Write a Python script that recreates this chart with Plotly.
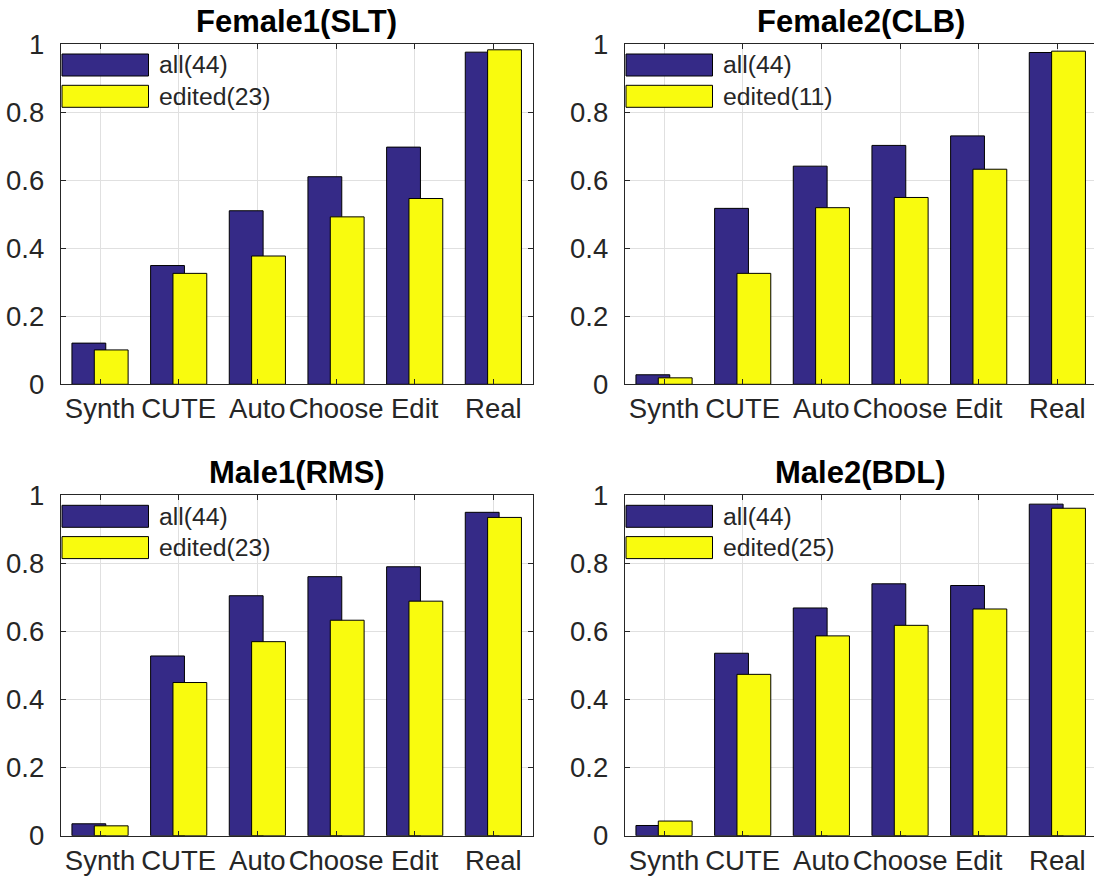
import plotly.graph_objects as go

# ---------------- data ----------------
categories = ["Synth", "CUTE", "Auto", "Choose", "Edit", "Real"]
panel_titles = ["Female1(SLT)", "Female2(CLB)", "Male1(RMS)", "Male2(BDL)"]
all_label = "all(44)"
edited_labels = ["edited(23)", "edited(11)", "edited(23)", "edited(25)"]

female1_all = [0.121, 0.349, 0.510, 0.610, 0.697, 0.976]
female1_edited = [0.101, 0.326, 0.377, 0.492, 0.546, 0.983]
female2_all = [0.028, 0.517, 0.641, 0.702, 0.730, 0.975]
female2_edited = [0.019, 0.326, 0.519, 0.549, 0.632, 0.979]
male1_all = [0.035, 0.528, 0.705, 0.761, 0.790, 0.950]
male1_edited = [0.029, 0.450, 0.570, 0.633, 0.689, 0.935]
male2_all = [0.030, 0.536, 0.669, 0.740, 0.735, 0.974]
male2_edited = [0.043, 0.474, 0.587, 0.618, 0.666, 0.962]

y_tickvals = [0, 0.2, 0.4, 0.6, 0.8, 1]
y_ticktext = ["0", "0.2", "0.4", "0.6", "0.8", "1"]

panels_all = [female1_all, female2_all, male1_all, male2_all]
panels_edited = [female1_edited, female2_edited, male1_edited, male2_edited]

# ---------------- styling / layout ----------------
W, H = 1094, 877
FONT = "Liberation Sans, Arial, Helvetica, sans-serif"
DARK = "#352A87"
YELLOW = "#F9FB0E"
AXC = "#262626"
GRID = "#e0e0e0"
TICK_FS = 27.5
LEG_FS = 24.75
TITLE_FS = 31

x_pos = list(range(1, len(categories) + 1))

# pixel boxes of the four axes (left, right, top, bottom)
AX_W = 472.0
boxes = [
    (60.7, 60.7 + AX_W, 44.0, 384.3),
    (624.7, 624.7 + AX_W, 44.0, 384.3),
    (60.7, 60.7 + AX_W, 495.3, 835.7),
    (624.7, 624.7 + AX_W, 495.3, 835.7),
]


def px_x(v):
    return v / W


def px_y(v):
    return 1 - v / H


fig = go.Figure()
layout = dict(
    template="none",
    width=W, height=H, autosize=False,
    margin=dict(l=0, r=0, t=0, b=0, pad=0, autoexpand=False),
    paper_bgcolor="white", plot_bgcolor="white",
    barmode="overlay", showlegend=False,
    font=dict(family=FONT, color=AXC),
)
annotations = []
shapes = []

for i in range(4):
    l, r, t, b = boxes[i]
    sfx = "" if i == 0 else str(i + 1)
    xa = "x" + sfx
    ya = "y" + sfx
    r_clip = min(r, W)
    units_per_px = 6.0 / AX_W
    xr = [0.5, 0.5 + (r_clip - l) * units_per_px]

    fig.add_trace(go.Bar(
        x=x_pos, y=panels_all[i], name=all_label,
        width=0.43, offset=-0.357,
        marker=dict(color=DARK, line=dict(color="black", width=1)),
        xaxis=xa, yaxis=ya,
    ))
    fig.add_trace(go.Bar(
        x=x_pos, y=panels_edited[i], name=edited_labels[i],
        width=0.43, offset=-0.073,
        marker=dict(color=YELLOW, line=dict(color="black", width=1)),
        xaxis=xa, yaxis=ya,
    ))

    clipped = r > W
    layout["xaxis" + sfx] = dict(
        domain=[px_x(l), px_x(r_clip)], anchor=ya, range=xr,
        tickmode="array", tickvals=x_pos, ticktext=categories, tickangle=0,
        showgrid=True, gridcolor=GRID, gridwidth=1, zeroline=False,
        showline=True, linecolor=AXC, linewidth=1, mirror="ticks",
        ticks="inside", ticklen=5, tickcolor=AXC, tickwidth=1,
        tickfont=dict(family=FONT, size=TICK_FS, color=AXC),
        automargin=False, fixedrange=True,
    )
    layout["yaxis" + sfx] = dict(
        domain=[px_y(b), px_y(t)], anchor=xa, range=[0, 1],
        tickmode="array", tickvals=y_tickvals, ticktext=y_ticktext,
        showgrid=True, gridcolor=GRID, gridwidth=1, zeroline=False,
        showline=True, linecolor=AXC, linewidth=1,
        mirror=False if clipped else "ticks",
        ticks="inside", ticklen=5, tickcolor=AXC, tickwidth=1,
        tickfont=dict(family=FONT, size=TICK_FS, color=AXC),
        ticklabelstandoff=10,
        automargin=False, fixedrange=True,
    )

    # title
    annotations.append(dict(
        x=px_x((l + r) / 2), y=px_y(t - 22.5), xref="paper", yref="paper",
        text="<b>" + panel_titles[i] + "</b>", showarrow=False,
        xanchor="center", yanchor="middle",
        font=dict(family=FONT, size=TITLE_FS, color="black"),
    ))

    # legend (swatches + labels)
    sw_l, sw_r = l + 1.3, l + 87.8
    entries = [(DARK, all_label, t + 10.0, t + 32.0),
               (YELLOW, edited_labels[i], t + 41.3, t + 63.3)]
    for col, lab, y0, y1 in entries:
        shapes.append(dict(
            type="rect", xref="paper", yref="paper",
            x0=px_x(sw_l), x1=px_x(sw_r), y0=px_y(y1), y1=px_y(y0),
            fillcolor=col, line=dict(color="black", width=1), layer="above",
        ))
        annotations.append(dict(
            x=px_x(l + 96.0), y=px_y((y0 + y1) / 2), xref="paper", yref="paper",
            text=lab, showarrow=False, xanchor="left", yanchor="middle",
            font=dict(family=FONT, size=LEG_FS, color=AXC),
        ))

layout["annotations"] = annotations
layout["shapes"] = shapes
fig.update_layout(**layout)

fig.write_html(
    "out.html",
    config={"displayModeBar": False, "responsive": False},
    post_script="document.body.style.margin='0';document.body.style.overflow='hidden';",
)
